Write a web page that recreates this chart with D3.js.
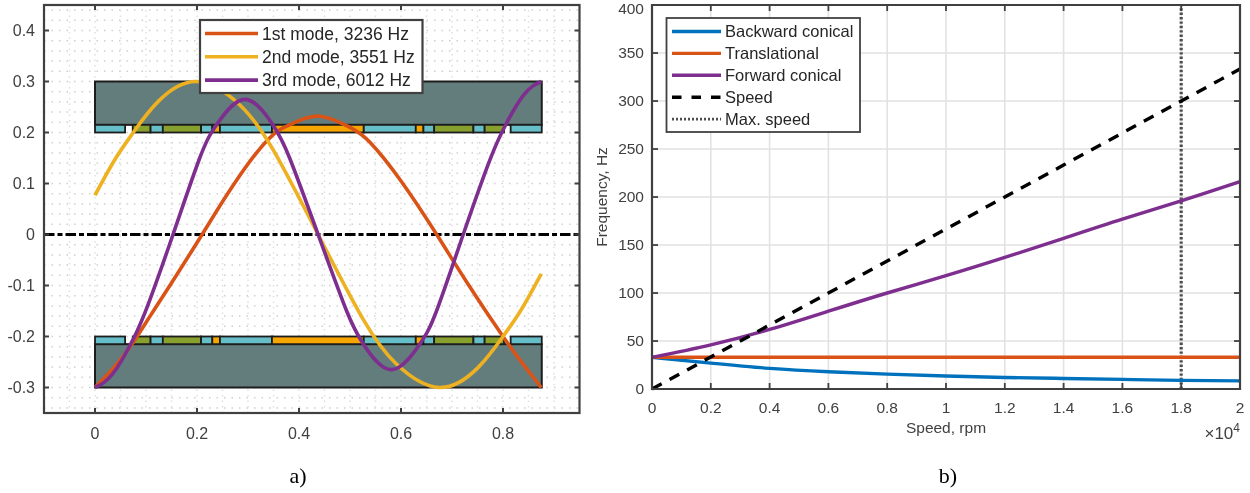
<!DOCTYPE html>
<html><head><meta charset="utf-8">
<script src="https://cdn.jsdelivr.net/npm/d3@7"></script>
<style>
html,body{margin:0;padding:0;background:#fff;}
svg{display:block;font-family:"Liberation Sans",Arial,sans-serif;}
</style></head><body><svg id="c" width="1250" height="493"></svg>
<script>
// Left panel: mode shapes
const modeX1=[0,.036,.069,.108,.15,.21,.27,.339,.388,.44,.5,.54,.6,.67,.73,.8,.84,.875];
const mode1=[-.3,-.262,-.22,-.16,-.095,0,.095,.186,.218,.232,.21,.18,.105,0,-.095,-.2,-.255,-.3];
const modeX2=[0,.039,.075,.125,.2,.283,.35,.4375,.525,.592,.675,.75,.8,.836,.875];
const mode2=[.077,.147,.2,.262,.3,.255,.165,0,-.165,-.255,-.3,-.262,-.2,-.147,-.077];
const modeX3=[0,.035,.075,.105,.153,.205,.239,.294,.348,.382,.4375,.493,.527,.581,.636,.67,.722,.77,.8,.84,.875];
const mode3=[-.3,-.273,-.205,-.135,0,.149,.216,.265,.216,.149,0,-.149,-.216,-.265,-.216,-.149,0,.135,.205,.273,.3];
const modeLabels=["1st mode, 3236 Hz","2nd mode, 3551 Hz","3rd mode, 6012 Hz"];
const modeColors=["#D95319","#EDB120","#7E2F8E"];
const leftXTicks=[0,.2,.4,.6,.8];
const leftYTicks=[-.3,-.2,-.1,0,.1,.2,.3,.4];
// rotor slot segments along the rotor: start, end, kind
const slotStart=[0,.074,.109,.133,.208,.23,.245,.347,.527,.629,.644,.665,.742,.764,.815];
const slotEnd=[.059,.109,.133,.208,.23,.245,.347,.527,.629,.644,.665,.742,.764,.802,.876];
const slotKind=["t","o","t","o","t","y","t","y","t","y","t","o","t","o","t"];
// Right panel: Campbell diagram (speed in rpm / 1e4)
const speed=[0,.2,.4,.6,.8,1,1.2,1.4,1.6,1.8,2];
const backward=[33,27,21.5,18,15.5,13.5,12,11,10,9,8.5];
const translational=[33,33,33,33,33,33,33,33,33,33,33];
const forward=[33,46,62,81,100,118,137,157,177,196,216];
const speedLine=[0,33.3,66.7,100,133.3,166.7,200,233.3,266.7,300,333.3];
const maxSpeed=1.8;
const rightXTicks=[0,.2,.4,.6,.8,1,1.2,1.4,1.6,1.8,2];
const rightYTicks=[0,50,100,150,200,250,300,350,400];

const svg=d3.select("#c");
svg.append("defs").append("filter").attr("id","soft").attr("x",0).attr("y",0).attr("width",1).attr("height",1)
 .attr("filterUnits","objectBoundingBox")
 .append("feGaussianBlur").attr("stdDeviation",.4);
const root=svg.append("g").attr("filter","url(#soft)");
root.append("rect").attr("width",1250).attr("height",493).attr("fill","#fff");
const TXT="#404040";

/* ---------- panel a ---------- */
const xL=d3.scaleLinear().domain([-.1,.95]).range([44,579.5]);
const yL=d3.scaleLinear().domain([-.35,.45]).range([413,5]);
const a=root.append("g");
const gridRowsL=d3.range(-17,23).map(i=>i*.02);
const gridColsL=d3.range(-1,19).map(i=>i*.05);
a.append("g").selectAll("line").data(gridRowsL).join("line")
 .attr("x1",xL(-.1)).attr("x2",xL(.95)).attr("y1",d=>yL(d)).attr("y2",d=>yL(d))
 .attr("stroke","#d0d0d0").attr("stroke-width",1.5).attr("stroke-dasharray","1.5 6");
a.append("g").selectAll("line").data(gridColsL).join("line")
 .attr("y1",yL(-.35)).attr("y2",yL(.45)).attr("x1",d=>xL(d)).attr("x2",d=>xL(d))
 .attr("stroke","#e0e0e0").attr("stroke-width",1.5).attr("stroke-dasharray","1.5 4");
const kindColor={t:"#66BFC8",o:"#87A02D",y:"#F7A600"};
const slots=slotStart.map((d,i)=>({s:d,e:slotEnd[i],k:slotKind[i]}));
[1,-1].forEach(sgn=>{
  const y0=sgn>0?.3:-.215, y1=sgn>0?.215:-.3;
  const s0=sgn>0?.215:-.2, s1=sgn>0?.2:-.215;
  a.append("rect").attr("x",xL(0)).attr("width",xL(.876)-xL(0))
   .attr("y",yL(y0)).attr("height",yL(y1)-yL(y0))
   .attr("fill","#647D7D").attr("stroke","#1c1c1c").attr("stroke-width",2);
  a.append("g").selectAll("rect").data(slots).join("rect")
   .attr("x",d=>xL(d.s)).attr("width",d=>xL(d.e)-xL(d.s))
   .attr("y",yL(s0)).attr("height",yL(s1)-yL(s0))
   .attr("fill",d=>kindColor[d.k]).attr("stroke","#1c1c1c").attr("stroke-width",1.8);
});
a.append("line").attr("x1",xL(-.1)).attr("x2",xL(.95)).attr("y1",yL(0)).attr("y2",yL(0))
 .attr("stroke","#000").attr("stroke-width",3).attr("stroke-dasharray","10.5 3 5 3");
const lineL=d3.line().x(d=>xL(d[0])).y(d=>yL(d[1])).curve(d3.curveNatural);
[[modeX1,mode1],[modeX2,mode2],[modeX3,mode3]].forEach(([xs,ys],i)=>{
  a.append("path").attr("d",lineL(xs.map((x,j)=>[x,ys[j]])))
   .attr("fill","none").attr("stroke",modeColors[i]).attr("stroke-width",3.6);
});
a.append("rect").attr("x",xL(-.1)).attr("y",yL(.45)).attr("width",xL(.95)-xL(-.1)).attr("height",yL(-.35)-yL(.45))
 .attr("fill","none").attr("stroke",TXT).attr("stroke-width",2.2);
const tickLen=5;
a.append("g").selectAll("line").data(leftXTicks).join("line")
 .attr("x1",d=>xL(d)).attr("x2",d=>xL(d)).attr("y1",yL(-.35)).attr("y2",yL(-.35)-tickLen).attr("stroke",TXT).attr("stroke-width",2);
a.append("g").selectAll("line").data(leftXTicks).join("line")
 .attr("x1",d=>xL(d)).attr("x2",d=>xL(d)).attr("y1",yL(.45)).attr("y2",yL(.45)+tickLen).attr("stroke",TXT).attr("stroke-width",2);
a.append("g").selectAll("line").data(leftYTicks).join("line")
 .attr("x1",xL(-.1)).attr("x2",xL(-.1)+tickLen).attr("y1",d=>yL(d)).attr("y2",d=>yL(d)).attr("stroke",TXT).attr("stroke-width",2);
a.append("g").selectAll("line").data(leftYTicks).join("line")
 .attr("x1",xL(.95)).attr("x2",xL(.95)-tickLen).attr("y1",d=>yL(d)).attr("y2",d=>yL(d)).attr("stroke",TXT).attr("stroke-width",2);
a.append("g").selectAll("text").data(leftXTicks).join("text")
 .attr("x",d=>xL(d)).attr("y",438.5).attr("text-anchor","middle").attr("font-size",16).attr("fill",TXT)
 .text(d=>d);
a.append("g").selectAll("text").data(leftYTicks).join("text")
 .attr("x",35).attr("y",d=>yL(d)+5.5).attr("text-anchor","end").attr("font-size",16).attr("fill",TXT)
 .text(d=>d);
const legL=a.append("g");
legL.append("rect").attr("x",200).attr("y",20).attr("width",222.5).attr("height",73)
 .attr("fill","#fff").attr("stroke",TXT).attr("stroke-width",2.2);
modeLabels.forEach((t,i)=>{
  const y=33.5+i*23.3;
  legL.append("line").attr("x1",205).attr("x2",258).attr("y1",y).attr("y2",y).attr("stroke",modeColors[i]).attr("stroke-width",3.6);
  legL.append("text").attr("x",262).attr("y",y+6).attr("font-size",17.5).attr("fill","#262626").text(t);
});

/* ---------- panel b ---------- */
const xR=d3.scaleLinear().domain([0,2]).range([652,1240]);
const yR=d3.scaleLinear().domain([0,400]).range([389,5]);
const b=root.append("g");
b.append("g").selectAll("line").data(rightXTicks.slice(1,-1)).join("line")
 .attr("x1",d=>xR(d)).attr("x2",d=>xR(d)).attr("y1",yR(0)).attr("y2",yR(400)).attr("stroke","#e2e2e2").attr("stroke-width",1.6);
b.append("g").selectAll("line").data(rightYTicks.slice(1,-1)).join("line")
 .attr("x1",xR(0)).attr("x2",xR(2)).attr("y1",d=>yR(d)).attr("y2",d=>yR(d)).attr("stroke","#e2e2e2").attr("stroke-width",1.6);
const lineR=d3.line().x(d=>xR(d[0])).y(d=>yR(d[1])).curve(d3.curveNatural);
const rSeries=[
 {n:"Backward conical",v:backward,c:"#0072BD",w:3.4},
 {n:"Translational",v:translational,c:"#D95319",w:3.4},
 {n:"Forward conical",v:forward,c:"#7E2F8E",w:3.4},
 {n:"Speed",v:speedLine,c:"#000",w:3.4,d:"11 9"}
];
b.append("line").attr("x1",xR(maxSpeed)).attr("x2",xR(maxSpeed)).attr("y1",yR(0)).attr("y2",yR(400))
 .attr("stroke","#505050").attr("stroke-width",3.2).attr("stroke-dasharray","2.4 2");
rSeries.forEach(s=>{
 b.append("path").attr("d",lineR(speed.map((x,j)=>[x,s.v[j]])))
  .attr("fill","none").attr("stroke",s.c).attr("stroke-width",s.w).attr("stroke-dasharray",s.d||null);
});
b.append("path").attr("d",`M${xR(0)},${yR(400)}H${xR(2)}V${yR(0)}H${xR(0)}Z`)
 .attr("fill","none").attr("stroke",TXT).attr("stroke-width",2.2);
b.append("g").selectAll("line").data(rightXTicks).join("line")
 .attr("x1",d=>xR(d)).attr("x2",d=>xR(d)).attr("y1",yR(0)).attr("y2",yR(0)-6).attr("stroke",TXT).attr("stroke-width",1.8);
b.append("g").selectAll("line").data(rightXTicks).join("line")
 .attr("x1",d=>xR(d)).attr("x2",d=>xR(d)).attr("y1",yR(400)).attr("y2",yR(400)+6).attr("stroke",TXT).attr("stroke-width",1.8);
b.append("g").selectAll("line").data(rightYTicks).join("line")
 .attr("x1",xR(0)).attr("x2",xR(0)+6).attr("y1",d=>yR(d)).attr("y2",d=>yR(d)).attr("stroke",TXT).attr("stroke-width",1.8);
b.append("g").selectAll("line").data(rightYTicks).join("line")
 .attr("x1",xR(2)).attr("x2",xR(2)-6).attr("y1",d=>yR(d)).attr("y2",d=>yR(d)).attr("stroke",TXT).attr("stroke-width",1.8);
b.append("g").selectAll("text").data(rightXTicks).join("text")
 .attr("x",d=>xR(d)).attr("y",412.5).attr("text-anchor","middle").attr("font-size",15.5).attr("fill",TXT).text(d=>d);
b.append("g").selectAll("text").data(rightYTicks).join("text")
 .attr("x",644).attr("y",d=>Math.max(yR(d)+5,14)).attr("text-anchor","end").attr("font-size",15.5).attr("fill",TXT).text(d=>d);
b.append("text").attr("transform","translate(607,197) rotate(-90)").attr("text-anchor","middle").attr("font-size",15.5).attr("fill",TXT).text("Frequency, Hz");
b.append("text").attr("x",946).attr("y",433).attr("text-anchor","middle").attr("font-size",15.5).attr("fill",TXT).text("Speed, rpm");
const exp=b.append("text").attr("x",1240).attr("y",439).attr("text-anchor","end").attr("font-size",17).attr("fill",TXT);
exp.append("tspan").text("×10");
exp.append("tspan").attr("font-size",12).attr("dy",-7).text("4");
const legR=b.append("g");
legR.append("rect").attr("x",666.5).attr("y",18).attr("width",193.5).attr("height",114).attr("fill","#fff").attr("stroke",TXT).attr("stroke-width",1.8);
const legEntries=[...rSeries,{n:"Max. speed",c:"#505050",w:2.8,d:"2 2"}];
legEntries.forEach((s,i)=>{
  const y=31.5+i*21.9;
  legR.append("line").attr("x1",672).attr("x2",721).attr("y1",y).attr("y2",y).attr("stroke",s.c).attr("stroke-width",s.w).attr("stroke-dasharray",s.d?(i===3?"9.5 10":s.d):null);
  legR.append("text").attr("x",725).attr("y",y+5.5).attr("font-size",16.5).attr("fill","#262626").text(s.n);
});
/* captions */
root.append("text").attr("x",298).attr("y",483).attr("text-anchor","middle").attr("font-family","Liberation Serif").attr("font-size",22).attr("fill","#000").text("a)");
root.append("text").attr("x",948).attr("y",483).attr("text-anchor","middle").attr("font-family","Liberation Serif").attr("font-size",22).attr("fill","#000").text("b)");
</script></body></html>
